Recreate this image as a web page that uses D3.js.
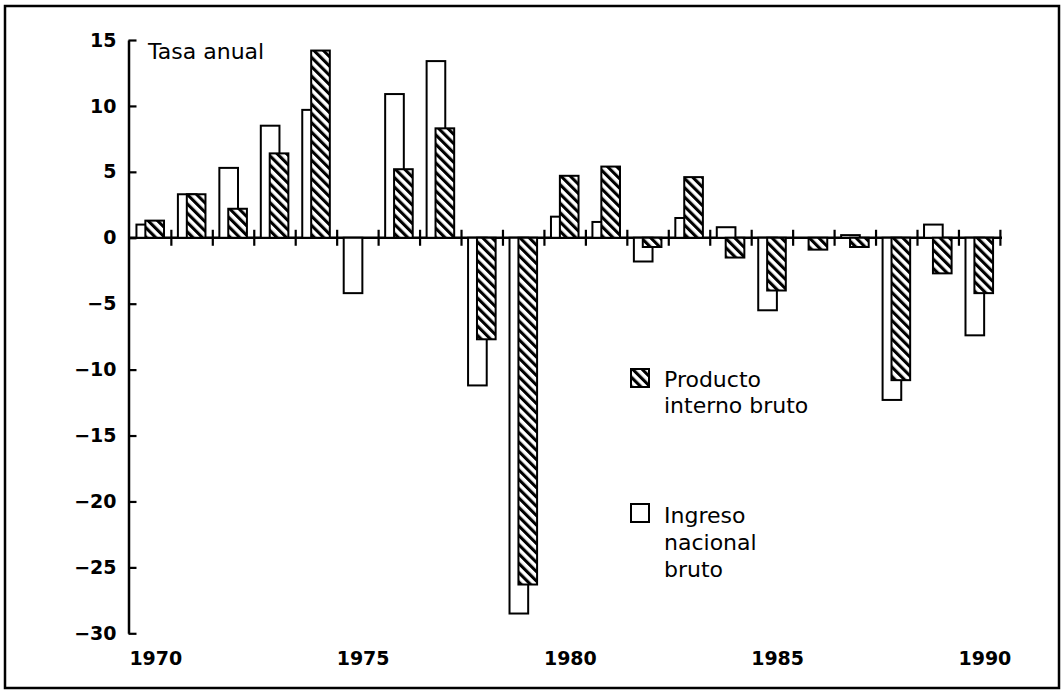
<!DOCTYPE html>
<html>
<head>
<meta charset="utf-8">
<script src="https://cdn.jsdelivr.net/npm/d3@7"></script>
<style>
  body { margin: 0; background: #fff; }
  svg text { font-family: "DejaVu Sans", sans-serif; fill: #000; }
</style>
</head>
<body>
<div id="chart"></div>
<script>
var width = 1062;
var height = 691;

// data
var years = d3.range(1970, 1991);
var pib = [1.3, 3.3, 2.2, 6.4, 14.2, 0, 5.2, 8.3, -7.7, -26.3, 4.7, 5.4, -0.7, 4.6, -1.5, -4.0, -0.9, -0.7, -10.8, -2.7, -4.2];
var ingreso = [1.0, 3.3, 5.3, 8.5, 9.7, -4.2, 10.9, 13.4, -11.2, -28.5, 1.6, 1.2, -1.8, 1.5, 0.8, -5.5, 0, 0.2, -12.3, 1.0, -7.4];
var yTicks = [15, 10, 5, 0, -5, -10, -15, -20, -25, -30];
var yearLabels = [1970, 1975, 1980, 1985, 1990];
var legendPib = ["Producto", "interno bruto"];
var legendIngreso = ["Ingreso", "nacional", "bruto"];

var svg = d3.select("#chart")
    .append("svg")
    .attr("width", width)
    .attr("height", height);

// hatch pattern for the PIB bars
var pat = svg.append("defs").append("pattern")
    .attr("id", "hatch")
    .attr("patternUnits", "userSpaceOnUse")
    .attr("width", 6.6)
    .attr("height", 6.6)
    .attr("patternTransform", "rotate(-45)");
pat.append("rect").attr("width", 6.6).attr("height", 6.6).attr("fill", "#fff");
pat.append("rect").attr("width", 3.1).attr("height", 6.6).attr("fill", "#000");

// outer frame
svg.append("rect")
    .attr("x", 5).attr("y", 6)
    .attr("width", 1054).attr("height", 682)
    .attr("fill", "none")
    .attr("stroke", "#000")
    .attr("stroke-width", 2.5);

// scales
var x = d3.scaleBand().domain(years).range([129.4, 999.9]).padding(0);
var xYear = d3.scaleLinear().domain([1970, 1991]).range([129.4, 999.9]);
var y = d3.scaleLinear().domain([-30, 15]).range([633.3, 40]);

// y axis, ticks pointing inside
var yAxis = svg.append("g")
    .attr("transform", "translate(128.5,0)")
    .call(d3.axisLeft(y)
        .tickValues(yTicks)
        .tickSize(-8)
        .tickSizeOuter(0)
        .tickPadding(12)
        .tickFormat(function(d){ return d < 0 ? "\u2212" + Math.abs(d) : d; }));
yAxis.select(".domain").attr("stroke-width", 2.5);
yAxis.selectAll(".tick line").attr("stroke-width", 2.2);
yAxis.selectAll("text")
    .attr("font-size", 19)
    .attr("font-weight", "bold")
    .attr("font-family", "DejaVu Sans, sans-serif");

// x axis along zero, ticks at year boundaries
var xAxis = svg.append("g")
    .attr("transform", "translate(0," + y(0) + ")")
    .call(d3.axisBottom(xYear)
        .tickValues(d3.range(1971, 1992))
        .tickSize(8)
        .tickSizeOuter(0)
        .tickFormat(""));
xAxis.select(".domain")
    .attr("d", "M128.5,0H1002")
    .attr("stroke-width", 2.5);
xAxis.selectAll(".tick line")
    .attr("y1", -8)
    .attr("stroke-width", 2.2);

// year labels under the chart
svg.append("g")
    .selectAll("text")
    .data(yearLabels)
    .enter()
        .append("text")
        .attr("x", function(d){ return x(d); })
        .attr("y", 665)
        .attr("font-size", 19)
        .attr("font-weight", "bold")
        .text(function(d){ return d; });

var bw = x.bandwidth();

// white bars (ingreso) behind
svg.append("g")
    .selectAll("rect")
    .data(ingreso.map(function(v, i){ return {year: years[i], v: v}; }).filter(function(d){ return d.v !== 0; }))
    .enter()
        .append("rect")
        .attr("x", function(d){ return x(d.year) + bw * 0.17; })
        .attr("width", bw * 0.45)
        .attr("y", function(d){ return y(Math.max(0, d.v)); })
        .attr("height", function(d){ return Math.abs(y(d.v) - y(0)); })
        .attr("fill", "#fff")
        .attr("stroke", "#000")
        .attr("stroke-width", 2);

// hatched bars (pib) in front
svg.append("g")
    .selectAll("rect")
    .data(pib.map(function(v, i){ return {year: years[i], v: v}; }).filter(function(d){ return d.v !== 0; }))
    .enter()
        .append("rect")
        .attr("x", function(d){ return x(d.year) + bw * 0.385; })
        .attr("width", bw * 0.45)
        .attr("y", function(d){ return y(Math.max(0, d.v)); })
        .attr("height", function(d){ return Math.abs(y(d.v) - y(0)); })
        .attr("fill", "url(#hatch)")
        .attr("stroke", "#000")
        .attr("stroke-width", 2);

// axis title
svg.append("text")
    .attr("x", 148)
    .attr("y", 59)
    .attr("font-size", 22)
    .text("Tasa anual");

// legend
svg.append("rect")
    .attr("x", 631).attr("y", 369)
    .attr("width", 18).attr("height", 18)
    .attr("fill", "url(#hatch)")
    .attr("stroke", "#000")
    .attr("stroke-width", 2);
svg.append("g")
    .selectAll("text")
    .data(legendPib)
    .enter()
        .append("text")
        .attr("x", 664)
        .attr("y", function(d,i){ return 387 + i * 26; })
        .attr("font-size", 22)
        .text(function(d){ return d; });

svg.append("rect")
    .attr("x", 631).attr("y", 504)
    .attr("width", 18).attr("height", 18)
    .attr("fill", "#fff")
    .attr("stroke", "#000")
    .attr("stroke-width", 2);
svg.append("g")
    .selectAll("text")
    .data(legendIngreso)
    .enter()
        .append("text")
        .attr("x", 664)
        .attr("y", function(d,i){ return 523 + i * 27; })
        .attr("font-size", 22)
        .text(function(d){ return d; });
</script>
</body>
</html>
